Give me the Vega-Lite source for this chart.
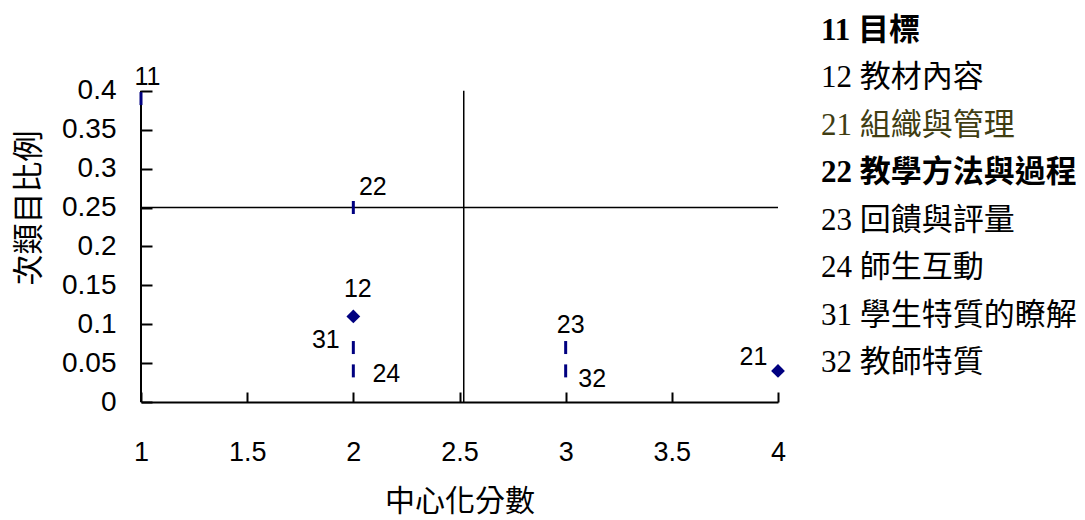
{
  "$schema": "https://vega.github.io/schema/vega-lite/v6.json",
  "padding": {"left": 13, "top": 13, "right": 5, "bottom": 2},
  "background": "white",
  "config": {"view": {"stroke": null}, "font": "Liberation Sans"},
  "datasets": {
    "points": [
      {"code": "11", "x": 1, "y": 0.39},
      {"code": "12", "x": 2, "y": 0.11},
      {"code": "21", "x": 4, "y": 0.04},
      {"code": "22", "x": 2, "y": 0.25},
      {"code": "23", "x": 3, "y": 0.07},
      {"code": "24", "x": 2, "y": 0.04},
      {"code": "31", "x": 2, "y": 0.07},
      {"code": "32", "x": 3, "y": 0.04}
    ],
    "quadrant": [{"x": 2.52, "y": 0.25, "ymin": 0, "ymax": 0.4, "xmin": 1, "xmax": 4}],
    "legend": [
      {"code": "11", "label": "11 目標"},
      {"code": "12", "label": "12 教材內容"},
      {"code": "21", "label": "21 組織與管理"},
      {"code": "22", "label": "22 教學方法與過程"},
      {"code": "23", "label": "23 回饋與評量"},
      {"code": "24", "label": "24 師生互動"},
      {"code": "31", "label": "31 學生特質的瞭解"},
      {"code": "32", "label": "32 教師特質"}
    ]
  },
  "bounds": "flush",
  "spacing": 43,
  "hconcat": [
    {
      "width": 637,
      "height": 389,
      "data": {"name": "points"},
      "encoding": {
        "x": {
          "field": "x", "type": "quantitative",
          "scale": {"domain": [1, 4], "nice": false, "zero": false},
          "axis": {
            "title": "中心化分數", "values": [1, 1.5, 2, 2.5, 3, 3.5, 4], "format": "~g",
            "grid": false, "labelFlush": false, "labelOverlap": false,
            "domainColor": "black", "domainWidth": 2, "tickColor": "black", "tickWidth": 2, "tickSize": -10,
            "labelPadding": 47, "labelFontSize": 27, "labelFont": "Liberation Sans", "labelColor": "black",
            "titleFont": "Noto Sans CJK TC", "titleFontSize": 30, "titleFontWeight": "normal", "titleColor": "black", "titlePadding": 21
          }
        },
        "y": {
          "field": "y", "type": "quantitative",
          "scale": {"domain": [0, 0.5], "nice": false},
          "axis": {
            "title": "次類目比例", "values": [0, 0.05, 0.1, 0.15, 0.2, 0.25, 0.3, 0.35, 0.4], "format": "~g",
            "grid": false, "domain": false, "labelFlush": false, "labelOverlap": false,
            "tickColor": "black", "tickWidth": 2, "tickSize": -11,
            "labelPadding": 36, "labelFontSize": 28, "labelFont": "Liberation Sans", "labelColor": "black",
            "titleFont": "Noto Sans CJK TC", "titleFontSize": 31, "titleFontWeight": "normal", "titleColor": "black", "titlePadding": 16
          }
        }
      },
      "layer": [
        {
          "data": {"name": "quadrant"},
          "mark": {"type": "rule", "color": "black", "strokeWidth": 1.5},
          "encoding": {"x": {"field": "x", "type": "quantitative"}, "y": {"field": "ymin", "type": "quantitative"}, "y2": {"field": "ymax"}}
        },
        {
          "data": {"name": "quadrant"},
          "mark": {"type": "rule", "color": "black", "strokeWidth": 1.5},
          "encoding": {"y": {"field": "y", "type": "quantitative"}, "x": {"field": "xmin", "type": "quantitative"}, "x2": {"field": "xmax"}}
        },
        {
          "data": {"name": "quadrant"},
          "mark": {"type": "rule", "color": "black", "strokeWidth": 2},
          "encoding": {"x": {"field": "xmin", "type": "quantitative"}, "y": {"field": "ymin", "type": "quantitative"}, "y2": {"field": "ymax"}}
        },
        {
          "transform": [{"filter": {"field": "code", "oneOf": ["11", "22", "23", "24", "31", "32"]}}],
          "mark": {"type": "tick", "orient": "vertical", "size": 13, "thickness": 3, "color": "#000080", "opacity": 1}
        },
        {
          "transform": [{"filter": {"field": "code", "oneOf": ["12", "21"]}}],
          "mark": {"type": "point", "shape": "diamond", "filled": true, "size": 190, "color": "#000080", "opacity": 1}
        },
        {"transform": [{"filter": "datum.code == '11'"}], "mark": {"type": "text", "dx": 6.5, "dy": -22, "fontSize": 25, "font": "Liberation Sans", "color": "black"}, "encoding": {"text": {"field": "code"}}},
        {"transform": [{"filter": "datum.code == '22'"}], "mark": {"type": "text", "dx": 19.5, "dy": -21, "fontSize": 25, "font": "Liberation Sans", "color": "black"}, "encoding": {"text": {"field": "code"}}},
        {"transform": [{"filter": "datum.code == '12'"}], "mark": {"type": "text", "dx": 4.5, "dy": -27.5, "fontSize": 25, "font": "Liberation Sans", "color": "black"}, "encoding": {"text": {"field": "code"}}},
        {"transform": [{"filter": "datum.code == '31'"}], "mark": {"type": "text", "dx": -27.5, "dy": -7.5, "fontSize": 25, "font": "Liberation Sans", "color": "black"}, "encoding": {"text": {"field": "code"}}},
        {"transform": [{"filter": "datum.code == '24'"}], "mark": {"type": "text", "dx": 33, "dy": 3.5, "fontSize": 25, "font": "Liberation Sans", "color": "black"}, "encoding": {"text": {"field": "code"}}},
        {"transform": [{"filter": "datum.code == '23'"}], "mark": {"type": "text", "dx": 5, "dy": -23, "fontSize": 25, "font": "Liberation Sans", "color": "black"}, "encoding": {"text": {"field": "code"}}},
        {"transform": [{"filter": "datum.code == '32'"}], "mark": {"type": "text", "dx": 26.5, "dy": 8.5, "fontSize": 25, "font": "Liberation Sans", "color": "black"}, "encoding": {"text": {"field": "code"}}},
        {"transform": [{"filter": "datum.code == '21'"}], "mark": {"type": "text", "dx": -24.5, "dy": -14, "fontSize": 25, "font": "Liberation Sans", "color": "black"}, "encoding": {"text": {"field": "code"}}}
      ]
    },
    {
      "width": 240,
      "height": 368,
      "data": {"name": "legend"},
      "encoding": {
        "y": {"field": "code", "type": "nominal", "scale": {"type": "point", "padding": 0.38, "domain": ["11", "12", "21", "22", "23", "24", "31", "32"]}, "axis": null},
        "x": {"datum": 0, "type": "quantitative", "scale": {"domain": [0, 1]}, "axis": null},
        "text": {"field": "label"}
      },
      "layer": [
        {"transform": [{"filter": {"field": "code", "oneOf": ["11", "22"]}}], "mark": {"type": "text", "align": "left", "fontSize": 31, "font": "Liberation Serif, Noto Sans CJK TC", "fontWeight": "bold", "color": "black"}},
        {"transform": [{"filter": {"field": "code", "oneOf": ["12", "23", "24", "31", "32"]}}], "mark": {"type": "text", "align": "left", "fontSize": 31, "font": "Liberation Serif, Noto Sans CJK TC", "fontWeight": "normal", "color": "black"}},
        {"transform": [{"filter": "datum.code == '21'"}], "mark": {"type": "text", "align": "left", "fontSize": 31, "font": "Liberation Serif, Noto Sans CJK TC", "fontWeight": "normal", "color": "#403d12"}}
      ]
    }
  ]
}
